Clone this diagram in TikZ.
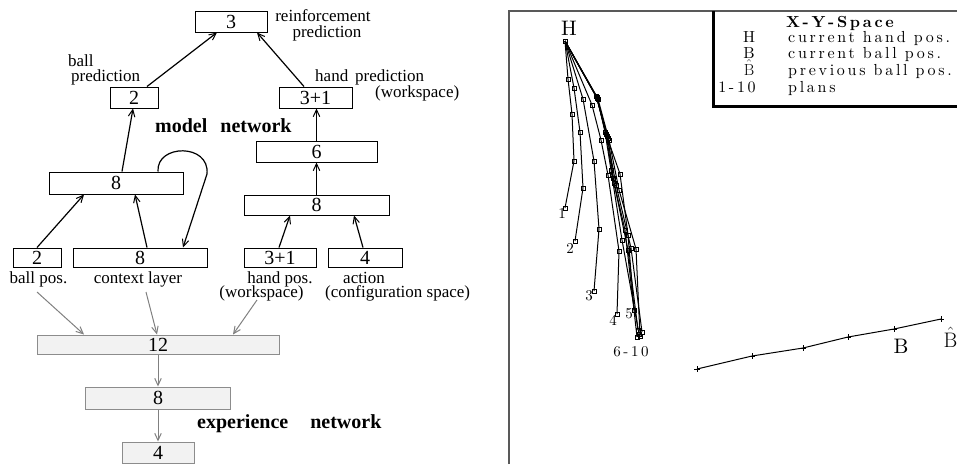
\documentclass[tikz,border=0pt]{standalone}
\usepackage{fontspec}
\usetikzlibrary{arrows.meta,plotmarks}
\newfontfamily\tms{Liberation Serif}
\newfontfamily\lmsp{lmroman10-regular}[Extension=.otf,BoldFont=lmroman10-bold,LetterSpace=17]
\newfontfamily\lmpl{lmroman10-regular}[Extension=.otf]
\begin{document}
\begin{tikzpicture}[x=1pt,y=-1pt,
  nbox/.style={draw,line width=1pt,inner sep=0pt,font=\tms\fontsize{20}{20}\selectfont},
  gbox/.style={draw=black!45,fill=black!5,line width=1pt,inner sep=0pt,font=\tms\fontsize{20}{20}\selectfont},
  lab/.style={inner sep=0pt,font=\tms\fontsize{17}{17}\selectfont},
  ttl/.style={inner sep=0pt,font=\tms\bfseries\fontsize{20}{20}\selectfont},
  arr/.style={line width=1.2pt,-{Straight Barb[length=7pt,width=6.5pt,line width=1pt]}},
  garr/.style={draw=black!50,line width=1pt,-{Straight Barb[length=7pt,width=6.5pt,line width=1pt]}},
  leg/.style={inner sep=0pt,font=\lmsp\fontsize{16}{16}\selectfont},
  plab/.style={inner sep=0pt,font=\lmsp\fontsize{15}{15}\selectfont},
  big/.style={inner sep=0pt,font=\lmpl\fontsize{21}{21}\selectfont},
  traj/.style={line width=1pt,black,mark=square,mark size=1.9pt,mark options={solid,fill=white,line width=0.6pt,black}},
  frame/.style={draw=black!65,line width=2pt}
]
\useasboundingbox (0,0) rectangle (957,464);

% ---------- model network ----------
\node[nbox,minimum width=72pt,minimum height=21pt] (top3) at (231,21.5) {3};
\node[nbox,minimum width=48pt,minimum height=21pt] (b2) at (134,97.5) {2};
\node[nbox,minimum width=73pt,minimum height=21pt] (b31) at (315.5,97.5) {3+1};
\node[nbox,minimum width=121pt,minimum height=21pt] (b6) at (316.5,151.5) {6};
\node[nbox,minimum width=134pt,minimum height=22pt] (b8l) at (116,183) {8};
\node[nbox,minimum width=145pt,minimum height=20pt] (b8r) at (316.5,205) {8};
\node[nbox,minimum width=48pt,minimum height=19pt] (in2) at (37,257.5) {2};
\node[nbox,minimum width=134pt,minimum height=19pt] (in8) at (140,257.5) {8};
\node[nbox,minimum width=72pt,minimum height=19pt] (in31) at (280,257.5) {3+1};
\node[nbox,minimum width=74pt,minimum height=19pt] (in4) at (365,257.5) {4};

\node[lab,anchor=base] (l1) at (323,21) {reinforcement};
\node[lab,anchor=base] (l2) at (327,37) {prediction};
\node[lab,anchor=base west] (l3) at (68,66) {ball};
\node[lab,anchor=base west] (l4) at (71,81) {prediction};
\node[lab,anchor=base west] (l5) at (315,81) {hand\hspace{7pt}prediction};
\node[lab,anchor=base west] (l6) at (375,97) {(workspace)};
\node[lab,anchor=base] (l7) at (38.5,283) {ball pos.};
\node[lab,anchor=base] (l8) at (138,283) {context layer};
\node[lab,anchor=base] (l9) at (280,283) {hand pos.};
\node[lab,anchor=base] (l10) at (261.5,297) {(workspace)};
\node[lab,anchor=base] (l11) at (364,283) {action};
\node[lab,anchor=base west] (l12) at (325,297) {(configuration space)};
\node[ttl,anchor=base west] (t1) at (155,132) {model\hspace{13pt}network};

\draw[arr] ([xshift=6pt]b8l.north) -- ([xshift=-1pt]b2.south);
\draw[arr] ([xshift=13pt]b2.north) -- ([xshift=-14pt]top3.south);
\draw[arr] ([xshift=-11.5pt]b31.north) -- ([xshift=26pt]top3.south);
\draw[arr] (b6.north) -- (b6.north |- b31.south);
\draw[arr] (b8r.north) -- (b8r.north |- b6.south);
\draw[arr] (in2.north) -- ([xshift=-32pt]b8l.south);
\draw[arr] ([xshift=7pt]in8.north) -- ([xshift=19pt]b8l.south);
\draw[arr] ([xshift=-1pt]in31.north) -- ([xshift=-26.5pt]b8r.south);
\draw[arr] ([xshift=-2pt]in4.north) -- ([xshift=37.5pt]b8r.south);
\draw[arr] ([xshift=42pt]b8l.north) .. controls (156,144) and (210,143) .. (207,174) -- ([xshift=43pt]in8.north);

% ---------- experience network ----------
\node[gbox,minimum width=242pt,minimum height=19pt] (e12) at (158,344.5) {12};
\node[gbox,minimum width=145pt,minimum height=22pt] (e8) at (158,398) {8};
\node[gbox,minimum width=72pt,minimum height=21pt] (e4) at (158,452.5) {4};
\node[ttl,anchor=base west] (t2) at (197,428) {experience\hspace{22pt}network};
\coordinate (g1) at (37,292);
\coordinate (g2) at (146,292);
\coordinate (g3) at (257,300);
\draw[garr] (g1) -- ([xshift=-74pt]e12.north);
\draw[garr] (g2) -- ([xshift=-1pt]e12.north);
\draw[garr] (g3) -- ([xshift=75pt]e12.north);
\draw[garr] (e12.south) -- (e8.north);
\draw[garr] (e8.south) -- (e4.north);

% ---------- X-Y space plot ----------
\draw[frame] (509,464) -- (509,11) -- (957,11);
\draw[line width=3pt,line join=miter] (713.5,11) -- (713.5,106.5) -- (957,106.5);
\node[leg,anchor=base] (lt) at (840,27) {\bfseries X-Y-Space};
\node[leg,anchor=base] (lh) at (749,42) {H};
\node[leg,anchor=base west] (lht) at (788,42) {current hand pos.};
\node[leg,anchor=base] (lb) at (749,58) {B};
\node[leg,anchor=base west] (lbt) at (788,58) {current ball pos.};
\node[leg,anchor=base] (lbh) at (749,75) {$\hat{\mathrm{B}}$};
\node[leg,anchor=base west] (lbht) at (788,75) {previous ball pos.};
\node[leg,anchor=base] (lp) at (737,92) {1-10};
\node[leg,anchor=base west] (lpt) at (788,92) {plans};

\node[big,anchor=base] (H) at (569,35) {H};
\node[big,anchor=base] (B) at (901,353) {B};
\node[big,anchor=base] (Bh) at (950.5,347) {$\hat{\mathrm{B}}$};

\draw[traj] plot coordinates {(565,41) (568,79) (572,114) (574,161) (565,208)};
\draw[traj] plot coordinates {(565,41) (574,88) (580,132) (583,188) (575,241)};
\draw[traj] plot coordinates {(565,41) (583,99) (594,161) (599,229) (594,291)};
\draw[traj] plot coordinates {(565,41) (592,105) (601,140) (608,175) (619,251) (617,314)};
\draw[traj] plot coordinates {(565,41) (597,98) (606,134) (620,174) (628,235) (634,310)};
\draw[traj] plot coordinates {(565,41) (597,98) (606,134) (613,178) (625,230) (637,337)};
\draw[traj] plot coordinates {(565,41) (597,98) (607,136) (616,185) (631,248) (642,332)};
\draw[traj] plot coordinates {(565,41) (596,96) (608,138) (614,183) (628,250) (638,330)};
\draw[traj] plot coordinates {(565,41) (598,99) (609,140) (619,190) (636,249) (640,336)};
\draw[traj] plot coordinates {(565,41) (597,97) (605,132) (611,170) (622,240) (639,334)};

\node[plab] (n1) at (562,213) {1};
\node[plab] (n2) at (570,248) {2};
\node[plab] (n3) at (589,296) {3};
\node[plab] (n4) at (613,320) {4};
\node[plab] (n5) at (629,314) {5};
\node[plab] (n610) at (631,352) {6-10};

\draw[line width=1pt,mark=+,mark size=3pt] plot coordinates {(697,369) (752,356) (803,348) (848,337) (894,329) (941,319)};
\end{tikzpicture}
\end{document}
